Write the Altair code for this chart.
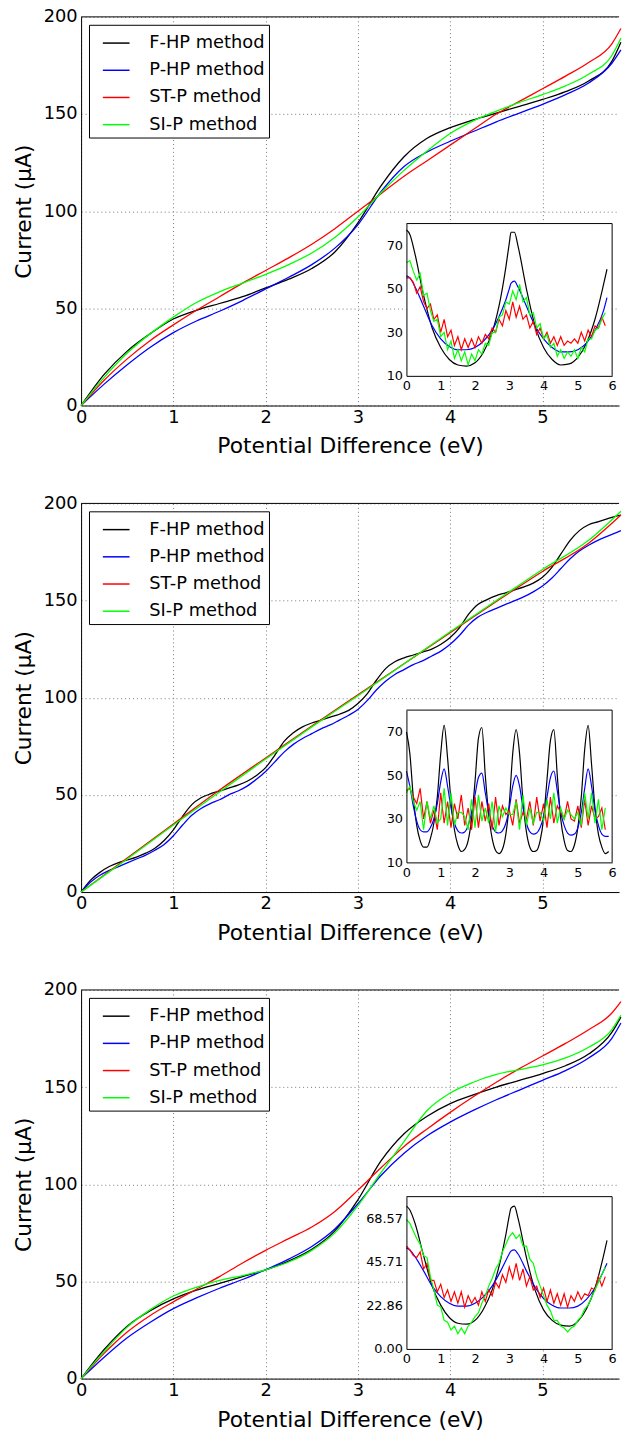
import altair as alt
import pandas as pd

# ---------------- data ----------------
METHODS = ["F-HP method", "P-HP method", "ST-P method", "SI-P method"]
COLORS = ["#000000", "#0000ff", "#ff0000", "#00ff00"]

X_MAIN_Q = [0, 0.25, 0.5, 0.75, 1.0, 1.25, 1.5, 1.75, 2.0, 2.25, 2.5, 2.75, 3.0,
            3.25, 3.5, 3.75, 4.0, 4.25, 4.5, 4.75, 5.0, 5.25, 5.5, 5.75, 5.85]
X_MAIN_H = [0, 0.5, 1.0, 1.5, 2.0, 2.5, 3.0, 3.5, 4.0, 4.5, 5.0, 5.5, 5.85]
X_MAIN_T = [0.0, 0.1, 0.2, 0.3, 0.4, 0.5, 0.6, 0.7, 0.8, 0.9,
            1.0, 1.1, 1.2, 1.3, 1.4, 1.5, 1.6, 1.7, 1.8, 1.9,
            2.0, 2.1, 2.2, 2.3, 2.4, 2.5, 2.6, 2.7, 2.8, 2.9,
            3.0, 3.1, 3.2, 3.3, 3.4, 3.5, 3.6, 3.7, 3.8, 3.9,
            4.0, 4.1, 4.2, 4.3, 4.4, 4.5, 4.6, 4.7, 4.8, 4.9,
            5.0, 5.1, 5.2, 5.3, 5.4, 5.5, 5.6, 5.7, 5.8, 5.85]

P1_FHP = [0, 16, 28, 37, 44.5, 49, 52.5, 56, 60.5, 65, 70.5, 79, 94,
          113, 128, 137.5, 143, 147, 150.5, 154, 157.5, 161.5, 167, 177, 187]
P1_PHP = [0, 11, 21, 30, 37.5, 43.5, 48.5, 54, 60, 66, 72.5, 81, 93,
          110, 123, 130.5, 136, 141, 146, 150.5, 155, 160, 166, 176, 183]
P1_STP = [0, 13, 24, 33.5, 41.5, 49, 56, 63, 69.5, 76, 83, 91, 100,
          109, 118, 126, 134, 142, 150, 156.5, 163, 169.5, 176.5, 186, 194]
P1_SIP = [0, 14.5, 27, 37, 45.5, 53, 58.5, 63, 67.5, 72.5, 78.5, 86.5, 97,
          109.5, 121, 131, 140, 146.5, 151.5, 156, 160, 164.5, 170.5, 180, 189]

P2_FHP = [0, 6, 10, 13, 15, 16.5, 18, 20, 22.5, 26.5,
          32, 39, 45, 48.5, 50.5, 52, 53.5, 55, 57, 60,
          64, 70.5, 77.5, 82, 85, 87, 88.5, 90, 91.5, 93.5,
          97, 102, 109, 115, 118.5, 120.5, 122, 123.5, 125, 127.5,
          131, 136, 143, 148, 150.5, 152.5, 154, 155.5, 157, 159,
          162, 167, 174, 181, 186, 189, 190.5, 192, 193.5, 194]
P2_PHP = [0, 5, 8.5, 11, 13, 15, 17, 19, 21.5, 24.5,
          29, 34.5, 39.5, 43, 45.5, 47.5, 50, 52, 54.5, 58,
          62, 67, 72, 76, 79, 81.5, 84, 86, 88.5, 91,
          94, 98.5, 104, 108.5, 112, 114.5, 117, 119, 121.5, 124,
          127.5, 132, 137.5, 141.5, 144, 146, 148, 150, 152, 154.5,
          157.5, 161.5, 166.5, 171.5, 175.5, 178.5, 181, 183, 185, 186]
P2_STP = [0, 17.5, 35, 52.5, 69, 85.5, 101.5, 117.5, 133.5, 149.5, 165, 179.5, 194]
P2_SIP = [0, 17, 34.5, 51.5, 68.5, 85, 101, 117.5, 134, 150, 166, 181, 196]

P3_FHP = [0, 15, 27, 35, 41, 45.5, 49, 52.5, 56, 60.5, 66.5, 76, 92,
          112, 126, 135, 141.5, 146, 150, 153.5, 157, 161, 167, 178, 186]
P3_PHP = [0, 11, 21, 29, 36, 41.5, 46.5, 51, 56, 61.5, 68, 77, 90,
          104.5, 116, 125, 132, 138, 143.5, 148.5, 153.5, 158.5, 165, 175, 183]
P3_STP = [0, 13, 24, 32.5, 39.5, 46, 52.5, 59.5, 66, 72, 78, 86, 97,
          108.5, 119.5, 128.5, 137, 145, 152.5, 159.5, 166, 172.5, 179.5, 188, 194]
P3_SIP = [0, 14, 26.5, 35.5, 42.5, 47, 50.5, 53, 56, 60, 66, 75, 89,
          106, 122, 138, 147, 152.5, 156.5, 159, 161.5, 165, 170.5, 179.5, 187]

X_INS_S = [0, 0.1, 0.25, 0.5, 0.75, 1.0, 1.25, 1.5, 1.75, 2.0, 2.25, 2.5, 2.75, 2.9,
           3.0, 3.05, 3.15, 3.25, 3.5, 3.75, 4.0, 4.25, 4.5, 4.75, 5.0, 5.25, 5.5, 5.75, 5.85]
I1_FHP = [77, 75, 66, 47, 32, 23, 17.5, 15, 14.5, 16, 21, 30, 46, 60,
          71, 76, 76, 70, 50, 33, 23, 17.5, 15, 15.5, 18.5, 25, 36, 52, 59]
I1_PHP = [56, 55, 51, 42, 33, 27, 23.5, 22, 22, 23, 26, 31, 39, 45,
          50, 52.5, 53.5, 51, 42, 33, 27, 23, 21, 21, 22, 25, 31, 40, 46]
I3_FHP = [75, 73, 66, 49, 33, 23, 16.5, 13.5, 13, 15, 21, 31, 47, 60,
          70, 74, 75, 69, 48, 31, 20.5, 15, 12.5, 12, 14.5, 21, 32, 49, 57]
I3_PHP = [53, 52, 48.5, 41, 33, 27.5, 24, 22.5, 22.5, 24, 27.5, 33, 41, 46.5,
          50, 51.5, 52, 50, 41, 32.5, 26.5, 23, 21.5, 21.5, 22.5, 26, 32, 41, 45]

X_INS_T = [0.0, 0.1, 0.2, 0.3, 0.4, 0.5, 0.6, 0.7, 0.8, 0.9,
           1.0, 1.1, 1.2, 1.3, 1.4, 1.5, 1.6, 1.7, 1.8, 1.9,
           2.0, 2.1, 2.2, 2.3, 2.4, 2.5, 2.6, 2.7, 2.8, 2.9,
           3.0, 3.1, 3.2, 3.3, 3.4, 3.5, 3.6, 3.7, 3.8, 3.9,
           4.0, 4.1, 4.2, 4.3, 4.4, 4.5, 4.6, 4.7, 4.8, 4.9,
           5.0, 5.1, 5.2, 5.3, 5.4, 5.5, 5.6, 5.7, 5.8, 5.9]
I2_FHP = [70, 60, 40, 27, 20, 17, 17, 21, 28, 40,
          60, 73, 58, 38, 25, 18, 15, 16, 20, 30,
          47, 67, 72, 50, 32, 21, 15.5, 14, 16, 23,
          37, 60, 71, 60, 38, 24, 17, 15, 15.5, 20,
          30, 48, 66, 71, 50, 30, 20, 15.5, 15, 18,
          26, 40, 62, 73, 55, 35, 23, 17, 14, 15]
I2_PHP = [52, 45, 36, 29, 25, 24, 24, 26, 30, 37,
          47, 53, 45, 35, 28, 24.5, 23.5, 24, 27, 33,
          41, 49, 51, 42, 33, 27, 24, 23.5, 24.5, 28,
          35, 45, 50, 45, 35, 28, 24, 23, 23.5, 26,
          31, 40, 49, 52, 43, 33, 27, 23.5, 22.5, 23,
          26, 33, 44, 53, 45, 34, 27, 23, 22, 22]

X_INS_N = [0.0, 0.1, 0.2, 0.3, 0.4, 0.5, 0.6, 0.7, 0.8, 0.9,
           1.0, 1.1, 1.2, 1.3, 1.4, 1.5, 1.6, 1.7, 1.8, 1.9,
           2.0, 2.1, 2.2, 2.3, 2.4, 2.5, 2.6, 2.7, 2.8, 2.9,
           3.0, 3.1, 3.2, 3.3, 3.4, 3.5, 3.6, 3.7, 3.8, 3.9,
           4.0, 4.1, 4.2, 4.3, 4.4, 4.5, 4.6, 4.7, 4.8, 4.9,
           5.0, 5.1, 5.2, 5.3, 5.4, 5.5, 5.6, 5.7, 5.8]
I1_STP = [55, 55, 53, 48, 51, 44, 41, 43, 36, 38,
          30, 36, 28, 31, 24, 28, 22, 27, 23, 27,
          23, 28, 25, 29, 27, 32, 30, 36, 33, 40,
          36, 44, 37, 42, 36, 38, 32, 35, 29, 32,
          27, 30, 25, 28, 24, 28, 24, 26, 25, 27,
          25, 30, 26, 31, 28, 33, 32, 37, 33]
I1_SIP = [62, 63, 58, 54, 57, 47, 48, 40, 35, 36,
          28, 30, 22, 26, 18, 22, 17, 21, 15, 20,
          17, 22, 20, 25, 24, 30, 30, 37, 38, 44,
          43, 49, 45, 52, 44, 46, 38, 39, 32, 34,
          27, 29, 23, 25, 19, 22, 18, 21, 19, 22,
          18, 23, 21, 27, 27, 31, 32, 36, 39]
I2_STP = [43, 44, 40, 37, 44, 30, 38, 28, 34, 25,
          42, 28, 38, 26, 37, 30, 41, 27, 35, 25,
          40, 26, 38, 29, 37, 25, 40, 27, 36, 32,
          34, 27, 39, 28, 33, 30, 38, 27, 40, 29,
          37, 26, 40, 28, 36, 33, 30, 38, 30, 29,
          36, 26, 39, 27, 36, 30, 31, 35, 25]
I2_SIP = [42, 45, 38, 34, 38, 25, 38, 30, 36, 28,
          30, 44, 27, 42, 27, 33, 33, 31, 25, 39,
          26, 41, 29, 35, 28, 38, 24, 36, 31, 35,
          32, 32, 38, 25, 41, 27, 35, 28, 33, 33,
          29, 39, 30, 42, 28, 35, 30, 34, 32, 30,
          33, 27, 42, 30, 42, 28, 39, 25, 35]
I3_STP = [54, 52, 49, 48, 51, 42, 45, 36, 36, 30,
          34, 27, 31, 25, 30, 24, 30, 22, 28, 24,
          27, 23, 30, 25, 31, 28, 35, 32, 39, 35,
          43, 37, 45, 36, 42, 33, 38, 31, 33, 27,
          32, 25, 31, 24, 29, 23, 29, 22, 28, 25,
          30, 26, 29, 28, 32, 31, 38, 33, 38]
I3_SIP = [68, 66, 62, 58, 55, 49, 48, 38, 31, 23,
          22, 15, 14, 10, 12, 8, 11, 8, 12, 14,
          17, 19, 24, 28, 33, 37, 42, 45, 51, 55,
          59, 61, 58, 60, 54, 54, 47, 45, 38, 33,
          28, 23, 20, 15, 15, 12, 11, 9, 11, 12,
          15, 17, 21, 23, 27, 31, 35, 39, 43]

MAIN_XTICKS = [0, 1, 2, 3, 4, 5]
MAIN_YTICKS = [0, 50, 100, 150, 200]
INSET_XTICKS = [0, 1, 2, 3, 4, 5, 6]
INSET_YTICKS_A = [10, 30, 50, 70]
INSET_YTICKS_B = [0, 22.857142857, 45.714285714, 68.571428571]
INSET_YDOM_A = [10, 80]
INSET_YDOM_B = [0, 80]
INSET_XDOM = [0, 6]


def long_frame(pairs):
    rows = []
    for xs, ys, m in pairs:
        for xv, yv in zip(xs, ys):
            rows.append({"x": xv, "y": yv, "method": m})
    return pd.DataFrame(rows)


# ---------------- layout / style ----------------
FONT = "DejaVu Sans"
W, H = 544, 393
XMAX = 5.83
IX = [329, 537]
IY = [363, 209]


def panel(main_df, ins_s_df, ins_n_df, ydom, yticks, yfmt):
    legend = alt.Legend(
        orient="none", legendX=8, legendY=8, title=None,
        fillColor="white", strokeColor="black",
        padding=4, symbolType="stroke", symbolSize=729, symbolStrokeWidth=1.5,
        symbolOffset=9, labelFont=FONT, labelFontSize=18, labelColor="black",
        labelOffset=19, rowPadding=3.5, labelLimit=400,
    )
    color = alt.Color("method:N", scale=alt.Scale(domain=METHODS, range=COLORS),
                      legend=legend, sort=METHODS)
    xs = alt.Scale(domain=[0, XMAX], nice=False, zero=False, padding=0)
    ys = alt.Scale(domain=[0, 200], nice=False, zero=False, padding=0)
    x_axis = alt.Axis(
        values=MAIN_XTICKS, title="Potential Difference (eV)", grid=True,
        ticks=False, tickSize=0, labelPadding=3, titlePadding=10,
        labelFontSize=18, titleFontSize=22, titleFontWeight="normal",
        labelFlush=False, labelOverlap=False, orient="bottom")
    y_axis = alt.Axis(
        values=MAIN_YTICKS, title="Current (μA)", grid=True,
        ticks=False, tickSize=0, labelPadding=4, titlePadding=8,
        labelFontSize=18, titleFontSize=22, titleFontWeight="normal",
        labelFlush=False, labelOverlap=False, orient="left")
    main = alt.Chart(main_df).mark_line(strokeWidth=1.3, interpolate="monotone").encode(
        x=alt.X("x:Q", scale=xs, axis=x_axis),
        y=alt.Y("y:Q", scale=ys, axis=y_axis),
        color=color,
    )
    top = alt.Chart(pd.DataFrame({"y": [200]})).mark_rule(
        color="black", strokeWidth=1).encode(y=alt.Y("y:Q", scale=ys, axis=y_axis))
    main_layer = alt.layer(main, top)

    ixs = alt.Scale(domain=INSET_XDOM, range=IX, nice=False, zero=False, padding=0)
    iys = alt.Scale(domain=ydom, range=IY, nice=False, zero=False, padding=0)
    ix_axis = alt.Axis(
        orient="bottom", offset=-(H - IY[0]), values=INSET_XTICKS, grid=False,
        title=None, domain=True, domainColor="black", domainWidth=1,
        ticks=False, tickSize=0, labelFontSize=13,
        labelPadding=4, labelFlush=False, labelOverlap=False, zindex=1)
    iy_axis = alt.Axis(
        orient="left", offset=-IX[0], values=yticks, format=yfmt, grid=False,
        title=None, domain=True, domainColor="black", domainWidth=1,
        ticks=False, tickSize=0, labelFontSize=13,
        labelPadding=4, labelFlush=False, labelOverlap=False, zindex=1)
    bg_df = pd.DataFrame({"x": [INSET_XDOM[0]], "x1": [INSET_XDOM[1]],
                          "y": [ydom[0]], "y1": [ydom[1]]})
    bg = alt.Chart(bg_df).mark_rect(fill="white", strokeWidth=0).encode(
        x=alt.X("x:Q", scale=ixs, axis=ix_axis), x2="x1:Q",
        y=alt.Y("y:Q", scale=iys, axis=iy_axis), y2="y1:Q")
    top_df = pd.DataFrame({"x": [INSET_XDOM[0]], "x1": [INSET_XDOM[1]], "y": [ydom[1]]})
    top_edge = alt.Chart(top_df).mark_rule(color="black", strokeWidth=1).encode(
        x=alt.X("x:Q", scale=ixs, axis=ix_axis), x2="x1:Q",
        y=alt.Y("y:Q", scale=iys, axis=iy_axis))
    right_df = pd.DataFrame({"x": [INSET_XDOM[1]], "y": [ydom[0]], "y1": [ydom[1]]})
    right_edge = alt.Chart(right_df).mark_rule(color="black", strokeWidth=1).encode(
        x=alt.X("x:Q", scale=ixs, axis=ix_axis),
        y=alt.Y("y:Q", scale=iys, axis=iy_axis), y2="y1:Q")
    ins_s = alt.Chart(ins_s_df).mark_line(strokeWidth=1.2, interpolate="monotone").encode(
        x=alt.X("x:Q", scale=ixs, axis=ix_axis),
        y=alt.Y("y:Q", scale=iys, axis=iy_axis),
        color=color,
    )
    ins_n = alt.Chart(ins_n_df).mark_line(strokeWidth=1.2).encode(
        x=alt.X("x:Q", scale=ixs, axis=ix_axis),
        y=alt.Y("y:Q", scale=iys, axis=iy_axis),
        color=color,
    )
    inset_layer = alt.layer(bg, ins_s, ins_n, top_edge, right_edge)
    return alt.layer(main_layer, inset_layer).resolve_scale(
        x="independent", y="independent").properties(width=W, height=H)


m1 = long_frame([(X_MAIN_Q, P1_FHP, METHODS[0]), (X_MAIN_Q, P1_PHP, METHODS[1]),
                 (X_MAIN_Q, P1_STP, METHODS[2]), (X_MAIN_Q, P1_SIP, METHODS[3])])
m2 = long_frame([(X_MAIN_T, P2_FHP, METHODS[0]), (X_MAIN_T, P2_PHP, METHODS[1]),
                 (X_MAIN_H, P2_STP, METHODS[2]), (X_MAIN_H, P2_SIP, METHODS[3])])
m3 = long_frame([(X_MAIN_Q, P3_FHP, METHODS[0]), (X_MAIN_Q, P3_PHP, METHODS[1]),
                 (X_MAIN_Q, P3_STP, METHODS[2]), (X_MAIN_Q, P3_SIP, METHODS[3])])
s1 = long_frame([(X_INS_S, I1_FHP, METHODS[0]), (X_INS_S, I1_PHP, METHODS[1])])
s2 = long_frame([(X_INS_T, I2_FHP, METHODS[0]), (X_INS_T, I2_PHP, METHODS[1])])
s3 = long_frame([(X_INS_S, I3_FHP, METHODS[0]), (X_INS_S, I3_PHP, METHODS[1])])
n1 = long_frame([(X_INS_N, I1_STP, METHODS[2]), (X_INS_N, I1_SIP, METHODS[3])])
n2 = long_frame([(X_INS_N, I2_STP, METHODS[2]), (X_INS_N, I2_SIP, METHODS[3])])
n3 = long_frame([(X_INS_N, I3_STP, METHODS[2]), (X_INS_N, I3_SIP, METHODS[3])])

p1 = panel(m1, s1, n1, INSET_YDOM_A, INSET_YTICKS_A, "d")
p2 = panel(m2, s2, n2, INSET_YDOM_A, INSET_YTICKS_A, "d")
p3 = panel(m3, s3, n3, INSET_YDOM_B, INSET_YTICKS_B, ".2f")

chart = alt.vconcat(p1, p2, p3, spacing=38).resolve_scale(color="independent").properties(
    padding={"left": 12, "top": 0, "right": 0, "bottom": 0}
).configure(font=FONT).configure_view(stroke=None).configure_axis(
    labelColor="black", titleColor="black", domainColor="black", domainWidth=1,
    gridColor="#777777", gridDash=[1, 3], gridWidth=1, labelFont=FONT, titleFont=FONT,
).configure_legend(strokeWidth=1, cornerRadius=0)

chart.save("out.html", embed_options={"renderer": "svg", "actions": False})
